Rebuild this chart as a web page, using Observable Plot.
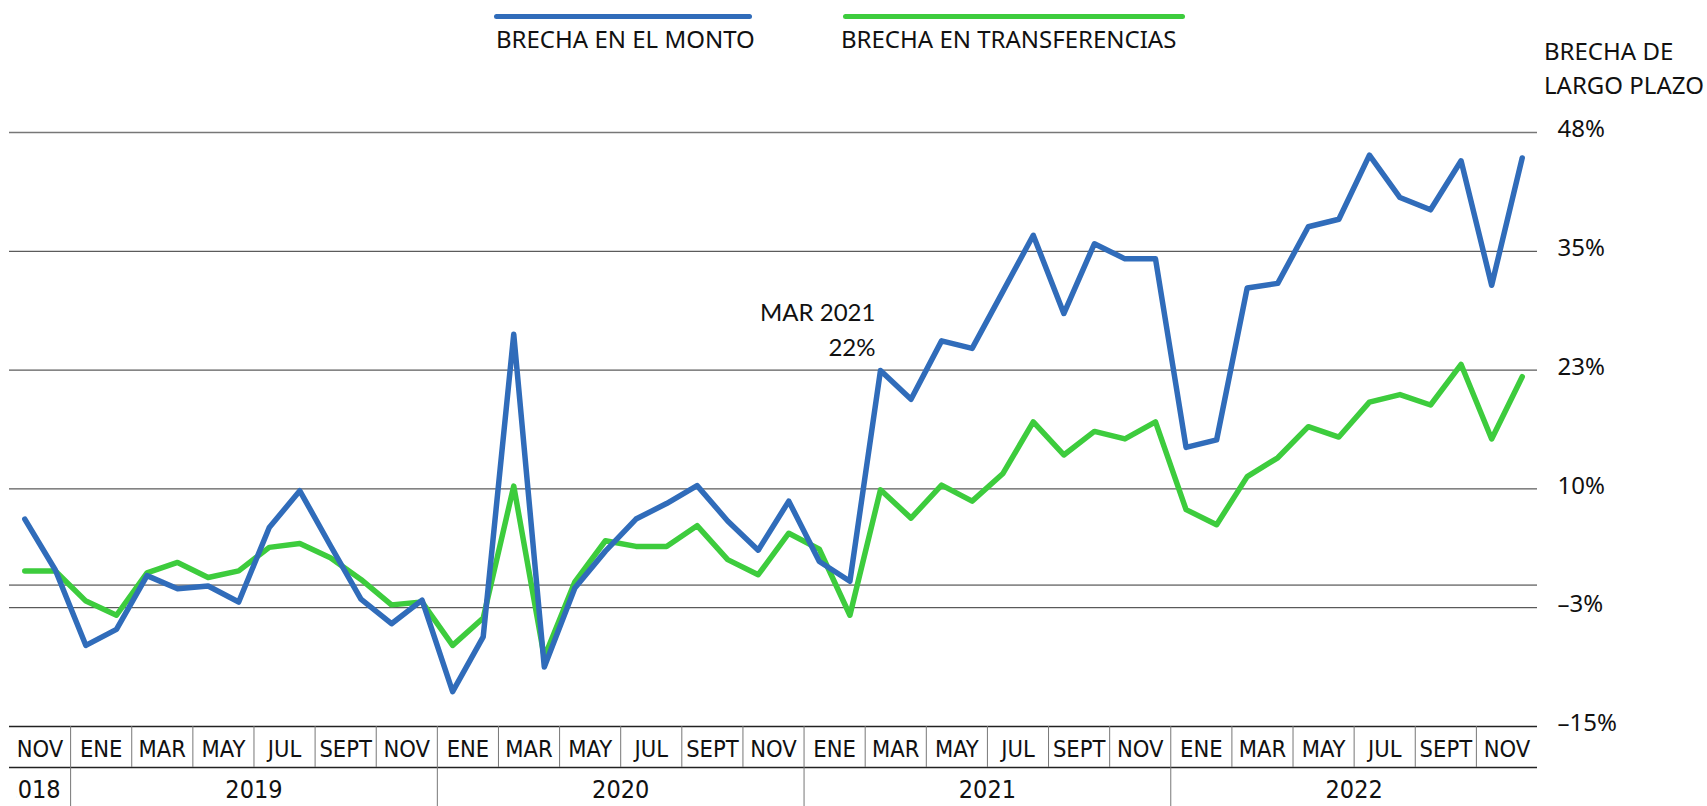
<!DOCTYPE html>
<html>
<head>
<meta charset="utf-8">
<script src="https://cdn.jsdelivr.net/npm/d3@7"></script>
<script src="https://cdn.jsdelivr.net/npm/@observablehq/plot@0.6"></script>
<style>
  html, body { margin: 0; padding: 0; background: #fff; }
  #wrap { position: relative; width: 1707px; height: 806px; overflow: hidden; font-family: "Noto Sans", sans-serif; color: #111; }
  #chart { position: absolute; left: 0; top: 0; }
  .leg { position: absolute; font-size: 24px; line-height: 1; white-space: nowrap; }
  .swatch { position: absolute; height: 5px; border-radius: 3px; }
</style>
</head>
<body>
<div id="wrap">
  <div id="chart"></div>
  <div class="swatch" style="left:494px; top:14px; width:258px; background:#306CBA"></div>
  <div class="leg" style="left:496px; top:27px;">BRECHA EN EL MONTO</div>
  <div class="swatch" style="left:843px; top:14px; width:342px; background:#3DCC3D"></div>
  <div class="leg" style="left:841px; top:27px;">BRECHA EN TRANSFERENCIAS</div>
  <div class="leg" style="left:1544px; top:34px; line-height:34px;">BRECHA DE<br>LARGO PLAZO</div>
</div>
<script>
// Series (monthly, Nov 2018 – Dec 2022), percent
const brechaMonto = [
  7.0, 1.6, -6.4, -4.7, 1.0, -0.4, -0.1, -1.8, 6.1, 10.0, 4.2, -1.5, -4.1, -1.6,
  -11.3, -5.5, 26.6, -8.7, -0.3, 3.6, 7.0, 8.65, 10.55, 6.8, 3.7, 8.9, 2.5, 0.4,
  22.75, 19.7, 25.9, 25.1, 31.1, 37.1, 28.8, 36.2, 34.6, 34.6, 14.6, 15.4,
  31.5, 32.0, 38.0, 38.8, 45.6, 41.1, 39.8, 45.0, 31.8, 45.3
];
const brechaTransferencias = [
  1.5, 1.5, -1.7, -3.2, 1.3, 2.4, 0.8, 1.5, 4.0, 4.4, 2.9, 0.6, -2.1, -1.8,
  -6.4, -3.5, 10.5, -7.65, 0.35, 4.7, 4.1, 4.1, 6.3, 2.7, 1.1, 5.5, 3.8, -3.2,
  10.1, 7.1, 10.6, 8.9, 11.8, 17.3, 13.8, 16.3, 15.5, 17.3, 8.0, 6.4,
  11.5, 13.5, 16.8, 15.7, 19.4, 20.2, 19.1, 23.4, 15.5, 22.1
];
const monthLabels = [
  "NOV",
  "ENE", "MAR", "MAY", "JUL", "SEPT", "NOV",
  "ENE", "MAR", "MAY", "JUL", "SEPT", "NOV",
  "ENE", "MAR", "MAY", "JUL", "SEPT", "NOV",
  "ENE", "MAR", "MAY", "JUL", "SEPT", "NOV"
];
const yearLabels = ["2018", "2019", "2020", "2021", "2022"];
const yTickValues = [-15, -2.4, 10.2, 22.8, 35.4, 48];
const yTickLabels = ["\u201315%", "\u20133%", "10%", "23%", "35%", "48%"];
const annotationIndex = 28;
const annotationText = "MAR 2021\n22%";

const W = 1707, H = 806;
const mt = 132, mb = 80, ml = 9, mr = 170;
const frameH = H - mt - mb;
const n = brechaMonto.length;
const BLUE = "#306CBA", GREEN = "#3DCC3D";
const condensed = "'DejaVu Sans Condensed', 'Roboto Condensed', 'Liberation Sans Narrow', Roboto, sans-serif";

const cellBorders = d3.range(1, monthLabels.length).map(k => 2 * k - 0.5);
const yearBorders = [1.5, 13.5, 25.5, 37.5];
const yearCenters = [null, 7.5, 19.5, 31.5, 43.5];

const chart = Plot.plot({
  width: W, height: H,
  marginTop: mt, marginBottom: mb, marginLeft: ml, marginRight: mr,
  x: {type: "linear", domain: [-0.5, n - 0.5], axis: null},
  y: {type: "linear", domain: [-15, 48], axis: null},
  style: {fontFamily: "'Noto Sans', sans-serif", color: "#111", background: "#fff"},
  marks: [
    // grid
    Plot.ruleY(yTickValues.slice(1, -1), {stroke: "#333", strokeWidth: 1}),
    Plot.ruleY([0], {stroke: "#333", strokeWidth: 1}),
    Plot.ruleY([48], {stroke: "#777", strokeWidth: 1.5}),
    Plot.ruleY([-15], {stroke: "#222", strokeWidth: 1.5}),
    // month table
    Plot.ruleY([-15], {stroke: "#222", strokeWidth: 1.5, dy: 41}),
    Plot.ruleX(cellBorders, {x: d => d, stroke: "#777", strokeWidth: 1, insetTop: frameH, insetBottom: -41}),
    Plot.ruleX(yearBorders, {x: d => d, stroke: "#777", strokeWidth: 1, insetTop: frameH + 41, insetBottom: -mb}),
    Plot.text(monthLabels, {x: (d, i) => 2 * i + 0.5, text: d => d, frameAnchor: "bottom", dy: 30,
      fontSize: 23.5, fontFamily: condensed, fill: "#111"}),
    Plot.text(yearLabels.slice(1), {x: (d, i) => yearCenters[i + 1], text: d => d, frameAnchor: "bottom", dy: 71,
      fontSize: 25, fontFamily: condensed, fill: "#111"}),
    Plot.text(yearLabels.slice(0, 1), {x: () => yearBorders[0], text: d => d, frameAnchor: "bottom", dy: 71, dx: -10,
      textAnchor: "end", fontSize: 25, fontFamily: condensed, fill: "#111"}),
    // y labels
    Plot.text(yTickValues, {y: d => d, text: (d, i) => yTickLabels[i], frameAnchor: "right", dx: 20, dy: -3,
      textAnchor: "start", fontSize: 24, fill: "#111"}),
    // series
    Plot.line(brechaTransferencias, {x: (d, i) => i, y: d => d, stroke: GREEN, strokeWidth: 5.5,
      strokeLinejoin: "round", strokeLinecap: "round"}),
    Plot.line(brechaMonto, {x: (d, i) => i, y: d => d, stroke: BLUE, strokeWidth: 5.5,
      strokeLinejoin: "round", strokeLinecap: "round"}),
    // annotation
    Plot.text([annotationIndex], {x: i => i, y: i => brechaMonto[i], text: () => annotationText,
      textAnchor: "end", lineAnchor: "bottom", lineHeight: 1.45, dx: -5, dy: -15,
      fontSize: 24, fontFamily: "Lato, 'Noto Sans', sans-serif", fill: "#111"})
  ]
});
document.getElementById("chart").appendChild(chart);

// clip the partially visible 2018 label at the left edge, as in the original
const svg = d3.select(chart);
svg.append("defs").append("clipPath").attr("id", "leftclip")
  .attr("clipPathUnits", "userSpaceOnUse")
  .append("rect").attr("x", 16).attr("y", 0).attr("width", W).attr("height", H);
const holder = svg.append("g").attr("clip-path", "url(#leftclip)");
svg.selectAll("text").filter(function() { return this.textContent === "2018"; })
  .each(function() {
    const g = this.parentNode;
    holder.node().appendChild(g);
  });
</script>
</body>
</html>
